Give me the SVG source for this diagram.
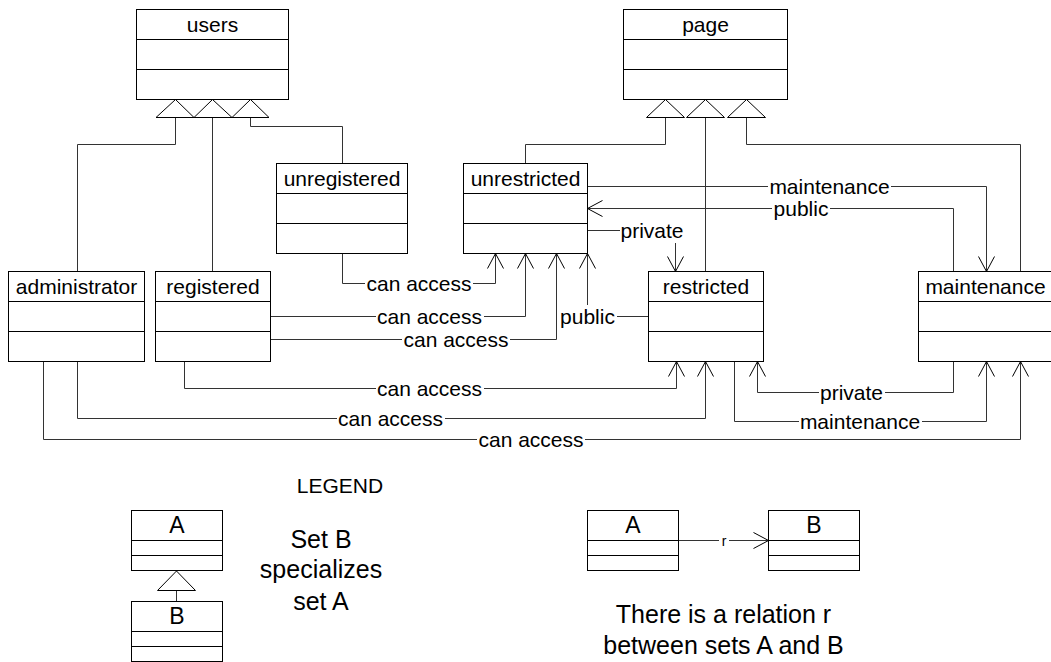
<svg xmlns="http://www.w3.org/2000/svg" width="1051" height="662" viewBox="0 0 1051 662">
<style>
.box{fill:#fff;stroke:#000;stroke-width:1}
.div{stroke:#000;stroke-width:1}
.t{font-family:"Liberation Sans",Arial,sans-serif;font-size:21px;fill:#000;text-anchor:middle}
.lg{font-family:"Liberation Sans",Arial,sans-serif;font-size:25px;fill:#000;text-anchor:middle}
.c{fill:none;stroke:#333;stroke-width:1}
.gen{fill:#fff;stroke:#000;stroke-width:1}
.bg{fill:#fff;stroke:none}
</style>
<defs>
<marker id="arr" markerUnits="userSpaceOnUse" viewBox="-16 -9 17 18" markerWidth="17" markerHeight="18" refX="0" refY="0" orient="auto" overflow="visible">
<path d="M-15,-8 L0,0 L-15,8" fill="none" stroke="#000" stroke-width="1"/>
</marker>
</defs>
<rect width="1051" height="662" fill="#fff"/>

<g id="connectors">
<!-- generalization lines -->
<path class="c" d="M175.5,117.5 V144.5 H77.5 V271.5"/>
<path class="c" d="M212.5,117.5 V271.5"/>
<path class="c" d="M250.5,117.5 V126.5 H342.5 V163.5"/>
<path class="c" d="M665.5,117.5 V144.5 H525.5 V163.5"/>
<path class="c" d="M705.5,117.5 V271.5"/>
<path class="c" d="M746.5,117.5 V144.5 H1020.5 V271.5"/>
<polygon class="gen" points="156,117.5 175.5,99.5 194,117.5"/>
<polygon class="gen" points="194,117.5 212.5,99.5 232,117.5"/>
<polygon class="gen" points="232,117.5 250.5,99.5 269,117.5"/>
<polygon class="gen" points="646.5,117.5 665.5,99.5 684.5,117.5"/>
<polygon class="gen" points="686.5,117.5 705.5,99.5 724.5,117.5"/>
<polygon class="gen" points="727.5,117.5 746.5,99.5 765.5,117.5"/>

<!-- relations -->
<path class="c" marker-end="url(#arr)" d="M342.5,253.5 V283.5 H495.5 V253.5"/>
<path class="c" marker-end="url(#arr)" d="M270.5,316.5 H525.5 V253.5"/>
<path class="c" marker-end="url(#arr)" d="M270.5,339.5 H556.5 V253.5"/>
<path class="c" marker-end="url(#arr)" d="M648.5,316.5 H587.5 V253.5"/>
<path class="c" marker-end="url(#arr)" d="M587.5,230.5 H675.5 V271.5"/>
<path class="c" marker-end="url(#arr)" d="M587.5,186.5 H986.5 V271.5"/>
<path class="c" marker-end="url(#arr)" d="M953.5,271.5 V208.5 H587.5"/>
<path class="c" marker-end="url(#arr)" d="M953.5,361.5 V392.5 H757.5 V361.5"/>
<path class="c" marker-end="url(#arr)" d="M734.5,361.5 V421.5 H986.5 V361.5"/>
<path class="c" marker-end="url(#arr)" d="M43.5,361.5 V439.5 H1020.5 V361.5"/>
<path class="c" marker-end="url(#arr)" d="M77.5,361.5 V418.5 H705.5 V361.5"/>
<path class="c" marker-end="url(#arr)" d="M184.5,361.5 V388.5 H676.5 V361.5"/>

<!-- labels -->
<rect class="bg" x="365" y="272" width="108" height="23"/>
<text class="t" x="419" y="290.5">can access</text>
<rect class="bg" x="376" y="305" width="108" height="23"/>
<text class="t" x="429.5" y="323.5">can access</text>
<rect class="bg" x="402" y="328" width="108" height="23"/>
<text class="t" x="456" y="346.5">can access</text>
<rect class="bg" x="559" y="305" width="58" height="23"/>
<text class="t" x="587.5" y="323.5">public</text>
<rect class="bg" x="620" y="219" width="66" height="24"/>
<text class="t" x="652" y="237.5">private</text>
<rect class="bg" x="768" y="175" width="123" height="22"/>
<text class="t" x="829.5" y="193.5">maintenance</text>
<rect class="bg" x="772" y="197" width="58" height="22"/>
<text class="t" x="801" y="215.5">public</text>
<rect class="bg" x="819" y="381" width="66" height="23"/>
<text class="t" x="851.5" y="399.5">private</text>
<rect class="bg" x="799" y="410" width="123" height="23"/>
<text class="t" x="860" y="428.5">maintenance</text>
<rect class="bg" x="477" y="428" width="108" height="23"/>
<text class="t" x="531" y="446.5">can access</text>
<rect class="bg" x="337" y="407" width="108" height="23"/>
<text class="t" x="390.5" y="425.5">can access</text>
<rect class="bg" x="376" y="377" width="108" height="23"/>
<text class="t" x="429.5" y="395.5">can access</text>
</g>

<g id="users">
<rect class="box" x="136.5" y="9.5" width="152" height="90"/>
<line class="div" x1="136.5" y1="39.5" x2="288.5" y2="39.5"/>
<line class="div" x1="136.5" y1="69.5" x2="288.5" y2="69.5"/>
<text class="t" x="212.5" y="32">users</text>
</g>
<g id="page">
<rect class="box" x="623.5" y="9.5" width="164" height="90"/>
<line class="div" x1="623.5" y1="39.5" x2="787.5" y2="39.5"/>
<line class="div" x1="623.5" y1="69.5" x2="787.5" y2="69.5"/>
<text class="t" x="705.5" y="32">page</text>
</g>
<g id="unregistered">
<rect class="box" x="276.5" y="163.5" width="131" height="90"/>
<line class="div" x1="276.5" y1="193.5" x2="407.5" y2="193.5"/>
<line class="div" x1="276.5" y1="223.5" x2="407.5" y2="223.5"/>
<text class="t" x="342" y="186">unregistered</text>
</g>
<g id="unrestricted">
<rect class="box" x="463.5" y="163.5" width="124" height="90"/>
<line class="div" x1="463.5" y1="193.5" x2="587.5" y2="193.5"/>
<line class="div" x1="463.5" y1="223.5" x2="587.5" y2="223.5"/>
<text class="t" x="525.5" y="186">unrestricted</text>
</g>
<g id="administrator">
<rect class="box" x="8.5" y="271.5" width="136" height="90"/>
<line class="div" x1="8.5" y1="301.5" x2="144.5" y2="301.5"/>
<line class="div" x1="8.5" y1="331.5" x2="144.5" y2="331.5"/>
<text class="t" x="76.5" y="294">administrator</text>
</g>
<g id="registered">
<rect class="box" x="155.5" y="271.5" width="115" height="90"/>
<line class="div" x1="155.5" y1="301.5" x2="270.5" y2="301.5"/>
<line class="div" x1="155.5" y1="331.5" x2="270.5" y2="331.5"/>
<text class="t" x="213" y="294">registered</text>
</g>
<g id="restricted">
<rect class="box" x="648.5" y="271.5" width="115" height="90"/>
<line class="div" x1="648.5" y1="301.5" x2="763.5" y2="301.5"/>
<line class="div" x1="648.5" y1="331.5" x2="763.5" y2="331.5"/>
<text class="t" x="706" y="294">restricted</text>
</g>
<g id="maintenance">
<rect class="box" x="918.5" y="271.5" width="134" height="90"/>
<line class="div" x1="918.5" y1="301.5" x2="1052.5" y2="301.5"/>
<line class="div" x1="918.5" y1="331.5" x2="1052.5" y2="331.5"/>
<text class="t" x="985.5" y="294">maintenance</text>
</g>

<g id="legend">
<text class="t" x="340" y="493">LEGEND</text>
<g id="legend-spec">
<rect class="box" x="131.5" y="510.5" width="91" height="60"/>
<line class="div" x1="131.5" y1="540.5" x2="222.5" y2="540.5"/>
<line class="div" x1="131.5" y1="555.5" x2="222.5" y2="555.5"/>
<text class="t" x="177" y="533" style="font-size:23px">A</text>
<line class="c" x1="176.5" y1="590.5" x2="176.5" y2="601.5"/>
<polygon class="gen" points="157.5,590.5 176.5,571 195.5,590.5"/>
<rect class="box" x="131.5" y="601.5" width="91" height="60"/>
<line class="div" x1="131.5" y1="631.5" x2="222.5" y2="631.5"/>
<line class="div" x1="131.5" y1="646.5" x2="222.5" y2="646.5"/>
<text class="t" x="177" y="624" style="font-size:23px">B</text>
<text class="lg" x="321" y="548">Set B</text>
<text class="lg" x="321" y="578">specializes</text>
<text class="lg" x="321" y="610">set A</text>
</g>
<g id="legend-rel">
<path class="c" marker-end="url(#arr)" d="M678.5,540.5 H768.5"/>
<rect class="bg" x="719" y="533" width="10" height="14"/>
<text class="t" x="724" y="546" style="font-size:14px">r</text>
<rect class="box" x="587.5" y="510.5" width="91" height="60"/>
<line class="div" x1="587.5" y1="540.5" x2="678.5" y2="540.5"/>
<line class="div" x1="587.5" y1="555.5" x2="678.5" y2="555.5"/>
<text class="t" x="633" y="533" style="font-size:23px">A</text>
<rect class="box" x="768.5" y="510.5" width="91" height="60"/>
<line class="div" x1="768.5" y1="540.5" x2="859.5" y2="540.5"/>
<line class="div" x1="768.5" y1="555.5" x2="859.5" y2="555.5"/>
<text class="t" x="814" y="533" style="font-size:23px">B</text>
<text class="lg" x="723.5" y="623">There is a relation r</text>
<text class="lg" x="723.5" y="654">between sets A and B</text>
</g>
</g>
</svg>
